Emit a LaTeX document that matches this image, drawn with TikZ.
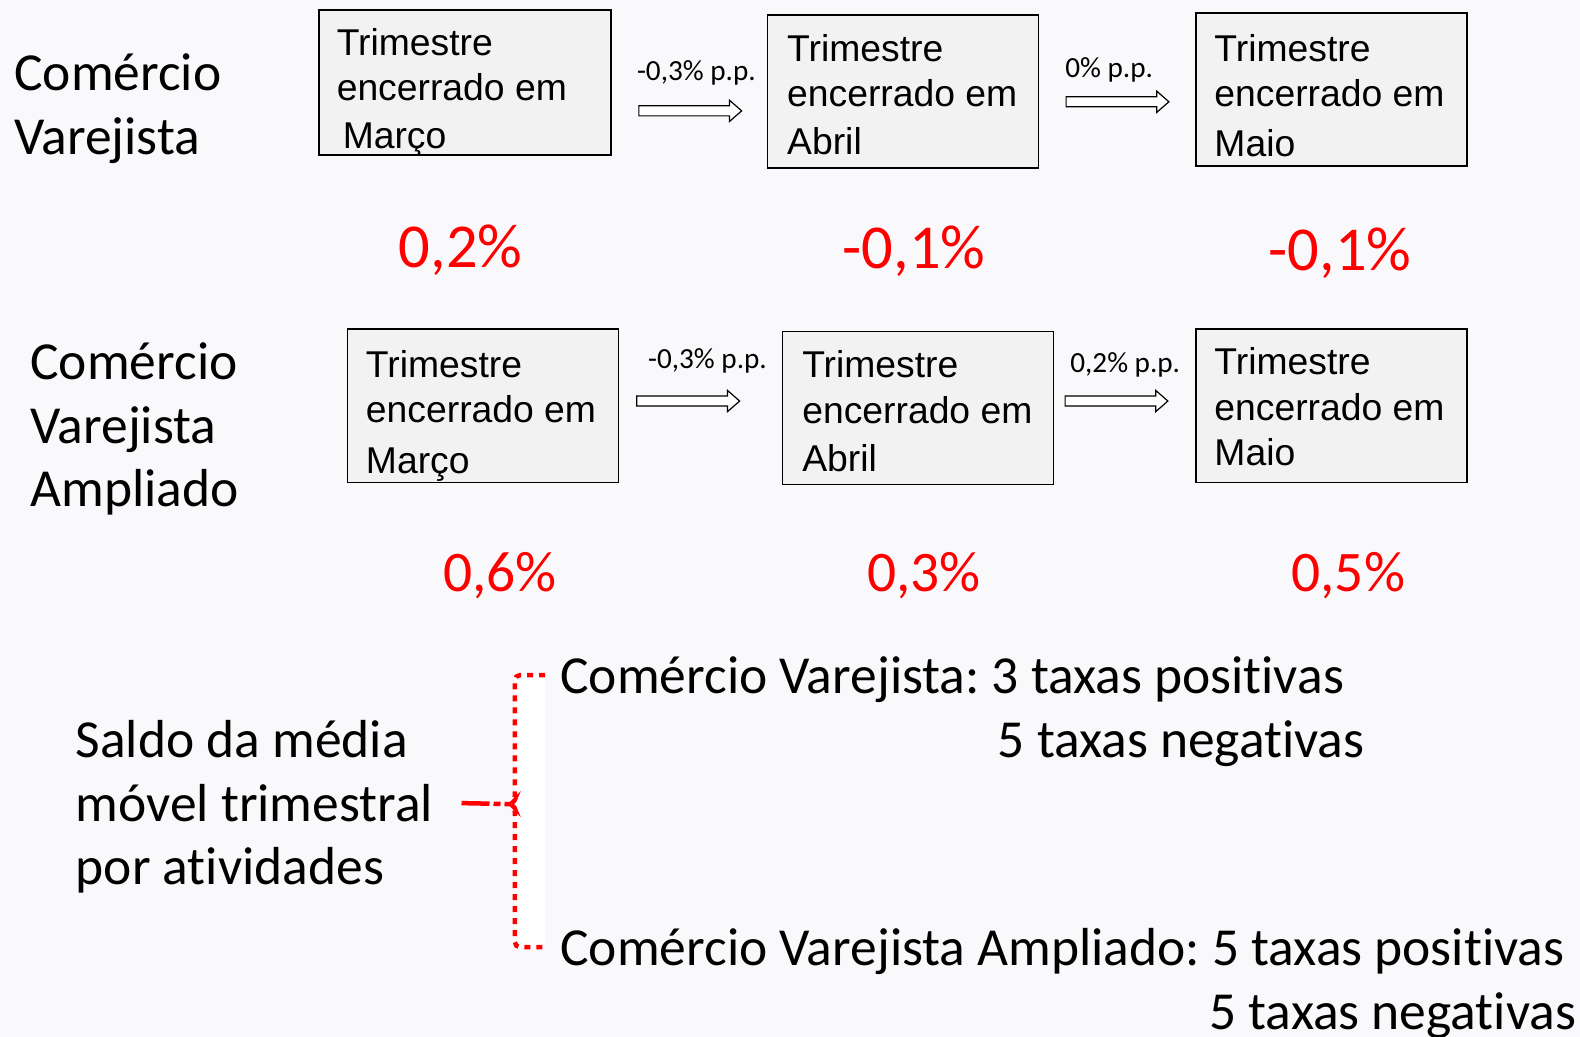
\documentclass[tikz,border=0pt]{standalone}
\usepackage{fontspec}
\setmainfont{Carlito}[Ligatures=NoCommon]
\newfontfamily\arialfont{Liberation Sans}
\usetikzlibrary{calc}

\definecolor{fundo}{HTML}{F9F9FB}
\definecolor{cinzacaixa}{HTML}{F2F2F2}

\tikzset{
  caixa/.style={draw=black,line width=1.5pt,fill=cinzacaixa,anchor=north west,inner sep=0pt,
    minimum width=271pt,minimum height=153pt},
  % base = linha de base da ultima linha
  txtcaixa/.style={font=\arialfont\fontsize{37.3}{45.3}\selectfont,align=left,anchor=base west,inner sep=0pt},
  rotulo/.style={font=\fontsize{53.5}{63.5}\selectfont,align=left,anchor=base west,inner sep=0pt},
  taxa/.style={font=\fontsize{#1}{#1}\selectfont,text=red,anchor=base,inner sep=0pt},
  pp/.style={font=\fontsize{29.2}{30}\selectfont,anchor=base west,inner sep=0pt},
  pontilhado/.style={draw=red,line width=4.5pt,dash pattern=on 6pt off 6pt},
  setabloco/.pic={\draw[line width=1.2pt,fill=white] (0,-5) -- (90,-5) -- (90,-10.5) -- (102,0) -- (90,10.5) -- (90,5) -- (0,5) -- cycle;}
}
\frenchspacing

\begin{document}
\begin{tikzpicture}[x=1.00765pt,y=-1.00765pt]
  \fill[fundo] (0,0) rectangle (1568,1029.1);
  \useasboundingbox (0,0) rectangle (1568,1029.1);

  % Comercio Varejista
  \node[rotulo] (cv) at (14,153) {Comércio\\Varejista};
  \node[caixa,minimum width=292pt,minimum height=145pt] (cvmar) at (316,9) {};
  \node[txtcaixa] (tcvmar) at (334,147) {Trimestre\\encerrado em\\[2pt]\hspace{6pt}Março};
  \node[caixa] (cvabr) at (761,14) {};
  \node[txtcaixa] (tcvabr) at (781,153) {Trimestre\\encerrado em\\[2pt]Abril};
  \node[caixa] (cvmai) at (1186,12) {};
  \node[txtcaixa] (tcvmai) at (1205,155) {Trimestre\\encerrado em\\[4pt]Maio};

  \node[pp] (pp1) at (632,80) {-0,3\% p.p.};
  \pic (s1) at (634,110) {setabloco};
  \node[pp] (pp2) at (1057,77) {0\% p.p.};
  \pic (s2) at (1058,101) {setabloco};

  \node[taxa=62.5] (t1) at (457,265) {0,2\%};
  \node[taxa=62.5] (t2) at (907,266) {-0,1\%};
  \node[taxa=62.5] (t3) at (1330,268) {-0,1\%};

  % Comercio Varejista Ampliado
  \node[rotulo] (cva) at (30,503) {Comércio\\Varejista\\Ampliado};
  \node[caixa] (cvamar) at (344,326) {};
  \node[txtcaixa] (tcvamar) at (363,470) {Trimestre\\encerrado em\\[6pt]Março};
  \node[caixa] (cvaabr) at (776,328) {};
  \node[txtcaixa] (tcvaabr) at (796,468) {Trimestre\\encerrado em\\[3pt]Abril};
  \node[caixa] (cvamai) at (1186,326) {};
  \node[txtcaixa] (tcvamai) at (1205,462) {Trimestre\\encerrado em\\Maio};

  \node[pp] (pp3) at (643,366) {-0,3\% p.p.};
  \pic (s3) at (632,398) {setabloco};
  \node[pp] (pp4) at (1062,370) {0,2\% p.p.};
  \pic (s4) at (1057,398) {setabloco};

  \node[taxa=57.4] (t4) at (496,587) {0,6\%};
  \node[taxa=57.4] (t5) at (917,587) {0,3\%};
  \node[taxa=57.4] (t6) at (1338,587) {0,5\%};

  % saldo
  \node[rotulo] (saldo) at (75,878) {Saldo da média\\móvel trimestral\\por atividades};
  \node[rotulo] (res1) at (556,688) {Comércio Varejista: 3 taxas positivas};
  \node[rotulo] (res1b) at (990,752) {5 taxas negativas};
  \node[rotulo] (res2) at (556,958) {Comércio Varejista Ampliado: 5 taxas positivas};
  \node[rotulo] (res2b) at (1200,1022) {5 taxas negativas};

  \fill[white] (541,670) -- (516,670) -- (511,675) -- (511,794) -- (507,798) -- (511,802)
    -- (511,935) -- (516,940) -- (541,940) -- cycle;
  \draw[pontilhado,rounded corners=5pt] (541,670) -- (511,670) -- (511,794) -- (507,798)
    -- (511,802) -- (511,940) -- (541,940);
  \coordinate (inicio) at (458,797);
  \coordinate (ponta) at (507,798);
  \draw[red,line width=4.5pt,dash pattern=on 28pt off 4pt on 7pt off 4pt on 8pt] (inicio) -- (ponta);
\end{tikzpicture}
\end{document}
